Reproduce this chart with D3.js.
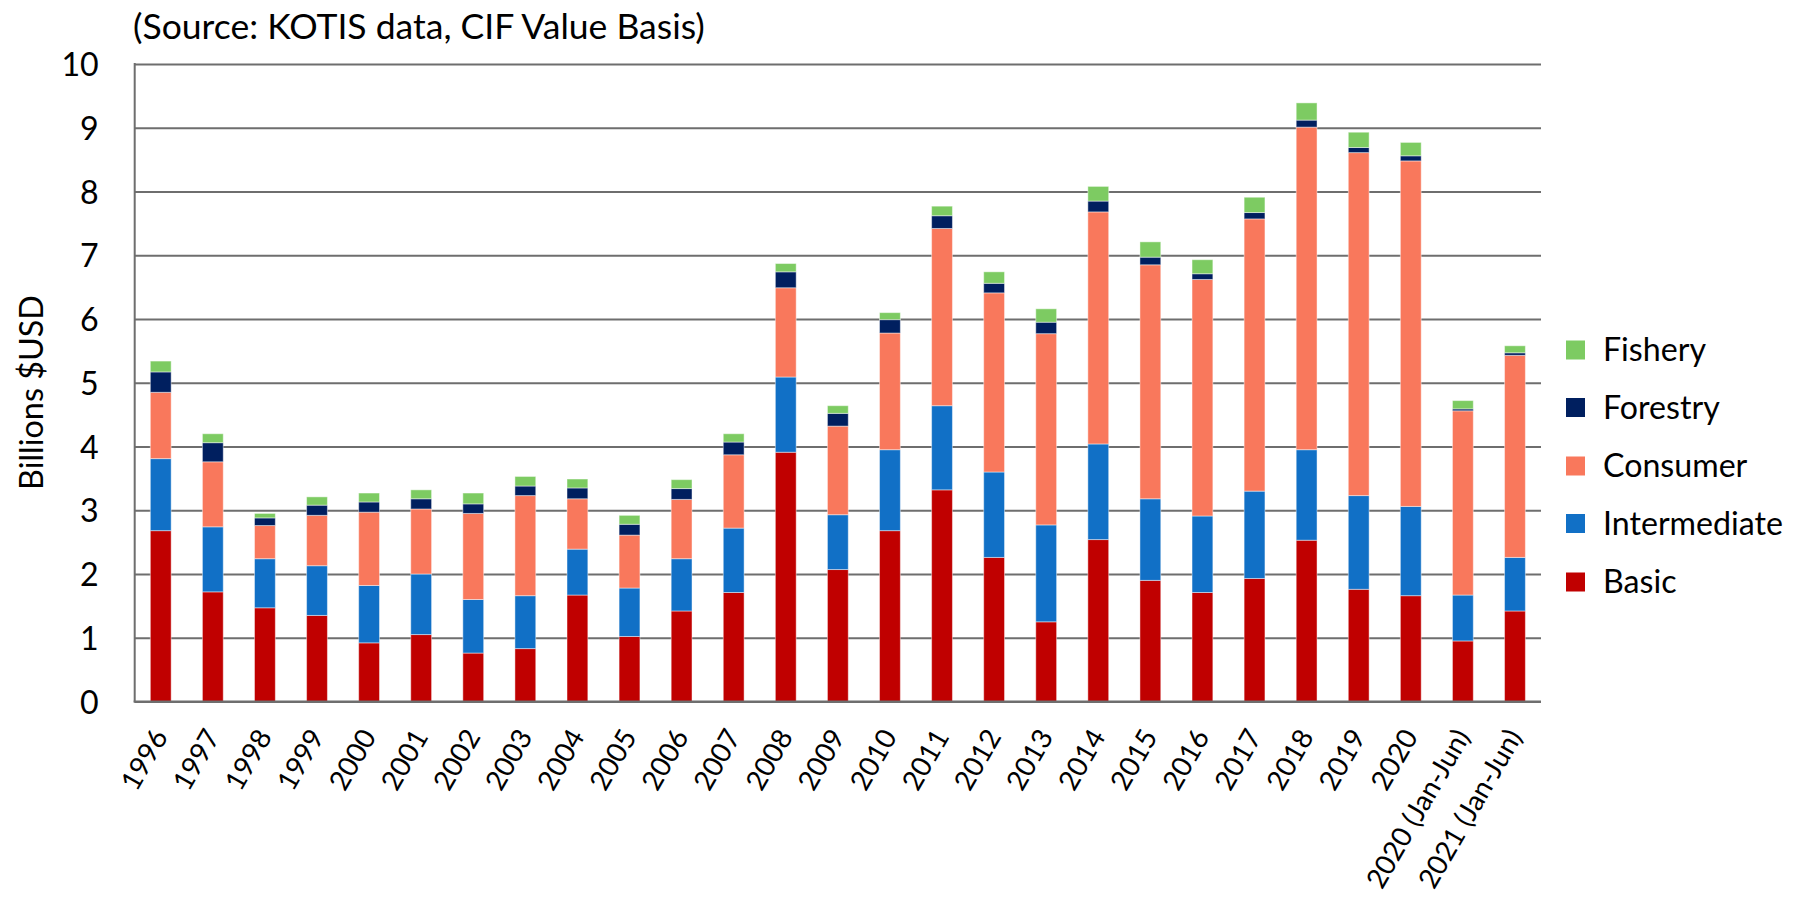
<!DOCTYPE html>
<html>
<head>
<meta charset="utf-8">
<script src="https://cdn.jsdelivr.net/npm/d3@7"></script>
<style>
  html, body { margin: 0; padding: 0; background: #fff; }
  svg { display: block; }
  text { font-family: Lato, "Open Sans", sans-serif; fill: #000; }
</style>
</head>
<body>
<svg id="chart" width="1796" height="898"></svg>
<script>
// ---- data (billions USD) ----
const categories = ["1996","1997","1998","1999","2000","2001","2002","2003","2004","2005",
  "2006","2007","2008","2009","2010","2011","2012","2013","2014","2015","2016","2017",
  "2018","2019","2020","2020 (Jan-Jun)","2021 (Jan-Jun)"];
const basic        = [2.68,1.72,1.47,1.35,0.92,1.05,0.76,0.83,1.67,1.02,1.42,1.71,3.91,2.07,2.68,3.32,2.26,1.25,2.54,1.90,1.71,1.93,2.53,1.76,1.66,0.95,1.42];
const intermediate = [1.13,1.02,0.77,0.78,0.90,0.95,0.84,0.83,0.72,0.76,0.82,1.01,1.18,0.86,1.27,1.32,1.34,1.52,1.50,1.28,1.20,1.37,1.42,1.47,1.40,0.72,0.84];
const consumer     = [1.04,1.02,0.52,0.79,1.15,1.02,1.35,1.57,0.79,0.83,0.93,1.15,1.40,1.39,1.83,2.78,2.81,3.00,3.64,3.67,3.71,4.27,5.06,5.38,5.42,2.89,3.17];
const forestry     = [0.32,0.30,0.12,0.16,0.16,0.16,0.15,0.15,0.17,0.17,0.17,0.20,0.25,0.20,0.21,0.20,0.15,0.18,0.17,0.12,0.09,0.10,0.11,0.08,0.08,0.03,0.04];
const fishery      = [0.17,0.14,0.07,0.13,0.14,0.14,0.17,0.15,0.14,0.14,0.14,0.13,0.13,0.12,0.11,0.15,0.18,0.21,0.23,0.24,0.22,0.24,0.27,0.24,0.21,0.13,0.11];
const seriesNames  = ["Basic","Intermediate","Consumer","Forestry","Fishery"];
const yTicks       = [0,1,2,3,4,5,6,7,8,9,10];
const titleText    = "(Source: KOTIS data, CIF Value Basis)";
const yAxisTitle   = "Billions $USD";

const colors = {
  Basic: "#C00000",
  Intermediate: "#1170C6",
  Consumer: "#F9785C",
  Forestry: "#001F5F",
  Fishery: "#7DCB62"
};

// ---- table for stacking ----
const seriesValues = { Basic: basic, Intermediate: intermediate, Consumer: consumer, Forestry: forestry, Fishery: fishery };
const table = categories.map((c, i) => {
  const row = { cat: c };
  seriesNames.forEach(k => row[k] = seriesValues[k][i]);
  return row;
});
const stacked = d3.stack().keys(seriesNames)(table);

// ---- layout ----
const svg = d3.select("#chart");
const L = 134.7, R = 1541, T = 64, B = 701.5;

const x = d3.scaleBand().domain(categories).range([L, R]).paddingInner(0.6).paddingOuter(0.3);
const y = d3.scaleLinear().domain([0, 10]).range([B, T]);

const gridColor = "#6E6E6E";

// gridlines + y tick labels
const yAxis = svg.append("g")
  .attr("transform", `translate(${L},0)`)
  .call(d3.axisLeft(y).tickValues(yTicks).tickSize(-(R - L)).tickPadding(36).tickFormat(d3.format("d")));
yAxis.select(".domain").remove();
yAxis.selectAll(".tick line").attr("stroke", gridColor).attr("stroke-width", 2);
yAxis.selectAll(".tick text").attr("font-family", "Lato").attr("fill", "#000");

// left axis line
svg.append("line").attr("x1", L).attr("x2", L).attr("y1", y(0) + 1).attr("y2", y(10) - 1)
  .attr("stroke", gridColor).attr("stroke-width", 2);

// bars
const layers = svg.append("g").selectAll("g").data(stacked).join("g")
  .attr("fill", d => colors[d.key]);
layers.selectAll("rect").data(d => d).join("rect")
  .attr("x", d => x(d.data.cat))
  .attr("width", x.bandwidth())
  .attr("y", d => y(d[1]))
  .attr("height", d => y(d[0]) - y(d[1]))
  .attr("stroke", "#ffffff").attr("stroke-opacity", 0.45).attr("stroke-width", 1);

// baseline over bars
svg.append("line").attr("x1", L - 1).attr("x2", R).attr("y1", y(0)).attr("y2", y(0))
  .attr("stroke", gridColor).attr("stroke-width", 2);

// x axis labels
const xAxis = svg.append("g")
  .attr("transform", `translate(0,${B})`)
  .call(d3.axisBottom(x).tickSize(0));
xAxis.select(".domain").remove();
xAxis.selectAll(".tick text")
  .attr("font-family", "Lato").attr("fill", "#000")
  .attr("text-anchor", "end")
  .attr("x", 0).attr("y", 0).attr("dy", null)
  .attr("transform", "translate(8,35) rotate(-60)");

// legend
const legendOrder = ["Fishery","Forestry","Consumer","Intermediate","Basic"];
const legendCY = [350, 407.5, 466, 523.5, 582];
const legend = svg.append("g");
legendOrder.forEach((k, i) => {
  legend.append("rect").attr("x", 1566).attr("y", legendCY[i] - 9.5).attr("width", 19).attr("height", 19)
    .attr("fill", colors[k]);
  legend.append("text").attr("class", "legtext").attr("x", 1603).attr("y", legendCY[i]).attr("dy", "0.35em").text(k);
});

// titles
const title = svg.append("text").attr("x", 133).attr("y", 39).text(titleText);
const yTitle = svg.append("text")
  .attr("transform", `translate(43,392.5) rotate(-90)`)
  .attr("text-anchor", "middle").text(yAxisTitle);

// ---- font fitting to reference text widths ----
function fitSize(sel, target) {
  sel.attr("font-size", 30);
  const w = sel.node().getComputedTextLength();
  return 30 * target / w;
}
const legendSize = fitSize(legend.selectAll(".legtext").filter(function(){ return this.textContent === "Intermediate"; }), 180);
legend.selectAll(".legtext").attr("font-size", legendSize);
yAxis.selectAll(".tick text").attr("font-size", legendSize).attr("dy", "0.36em");
const longLabel = xAxis.selectAll(".tick text").filter(d => d === "2021 (Jan-Jun)");
const xSize = Math.min(legendSize, fitSize(longLabel, 178));
xAxis.selectAll(".tick text").attr("font-size", xSize);
title.attr("font-size", fitSize(title, 572));
yTitle.attr("font-size", fitSize(yTitle, 195));
</script>
</body>
</html>
